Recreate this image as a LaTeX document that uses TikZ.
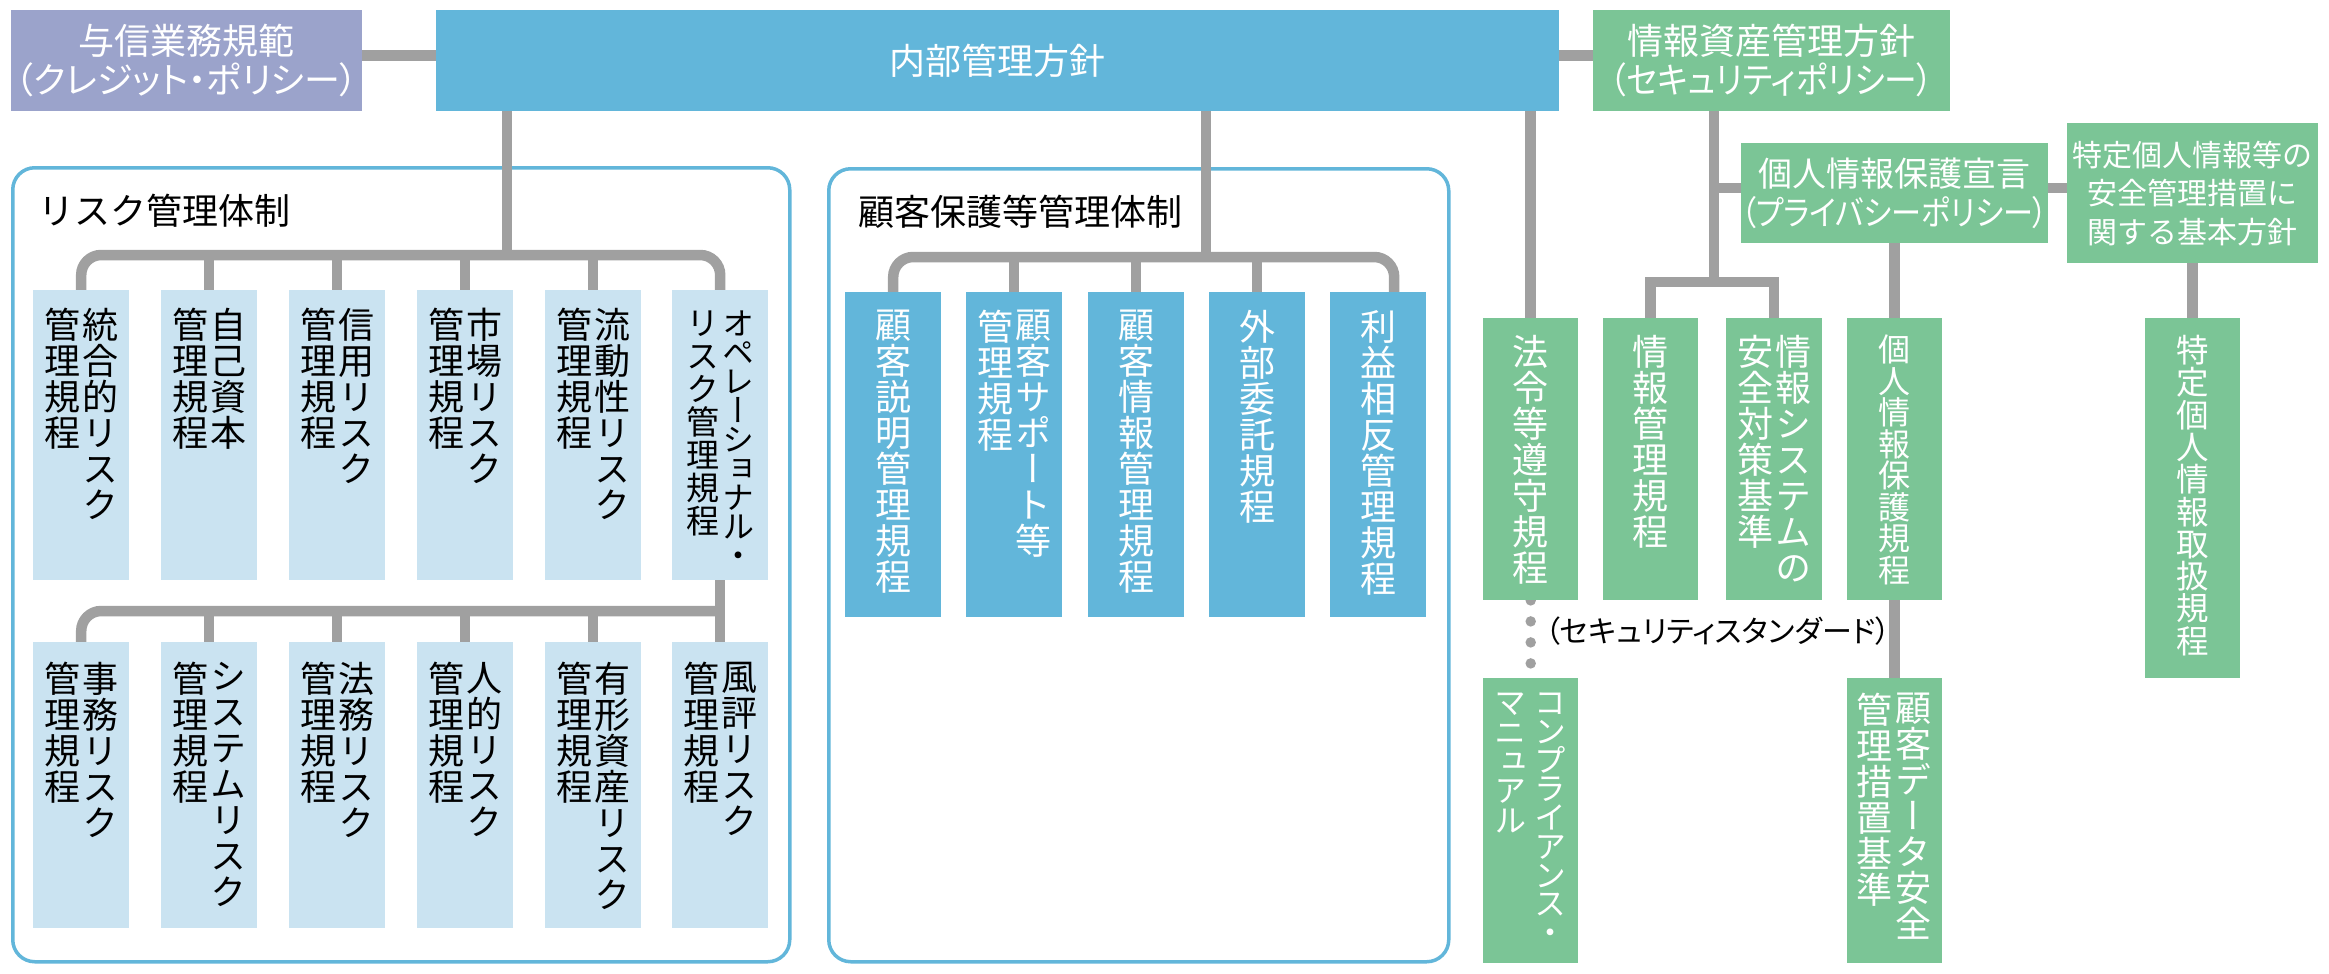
\documentclass[tikz,border=0pt]{standalone}
\usepackage{fontspec}
\usepackage{graphicx}
\newfontfamily\jp{Noto Sans CJK JP}
\newfontfamily\jpp[RawFeature=+palt]{Noto Sans CJK JP}
\newfontfamily\jpv[RawFeature=+vert]{Noto Sans CJK JP}
\definecolor{lav}{HTML}{9BA3CB}
\definecolor{blu}{HTML}{62B6DA}
\definecolor{lblu}{HTML}{CAE3F1}
\definecolor{grn}{HTML}{7BC596}
\definecolor{gry}{HTML}{A0A0A0}
\pgfdeclarelayer{cont}
\pgfdeclarelayer{conn}
\pgfsetlayers{cont,conn,main}
\makeatletter
\def\vt#1{\edef\vt@tmp{#1}\expandafter\vt@a\vt@tmp\@nil}
\def\vt@a#1#2\@nil{#1\ifx\relax#2\relax\expandafter\@gobble\else\expandafter\@firstofone\fi{\\\vt@a#2\@nil}}
\makeatother
\AtBeginDocument{\setlength{\lineskiplimit}{-50pt}}
\begin{document}
\begin{tikzpicture}[x=1pt,y=-1pt,
  box/.style={inner sep=0pt, anchor=north west, draw=none},
  conn/.style={draw=gry, line width=10.5pt},
  vtxt/.style={anchor=north, inner sep=0pt, align=center, font=\jpv\fontsize{36}{36}\selectfont},
  htxt/.style={align=center, font=\jp\fontsize{36}{39}\selectfont, text=white},
  contbox/.style={draw=blu, line width=3.5pt, rounded corners=22pt, inner sep=0pt, anchor=north west, fill=white},
  ttl/.style={anchor=west, inner sep=0pt, font=\jp\fontsize{36}{36}\selectfont},
]
\useasboundingbox (0,0) rectangle (2329,974);

% containers
\begin{pgfonlayer}{cont}
\node[contbox, minimum width=777pt, minimum height=794pt] (riskc) at (11,166) {};
\node[contbox, minimum width=620pt, minimum height=793pt] (custc) at (827,167) {};
\end{pgfonlayer}

% top boxes
\node[box, htxt, fill=lav, minimum width=351pt, minimum height=101pt] (yoshin) at (11,10) {与信業務規範\\{\jpp （クレジット・ポリシー）}};
\node[box, htxt, fill=blu, minimum width=1123pt, minimum height=101pt] (naibu) at (436,10) {内部管理方針};
\node[box, htxt, fill=grn, minimum width=357pt, minimum height=101pt] (joho) at (1593,10) {情報資産管理方針\\\scalebox{0.91}[1]{\jpp （セキュリティポリシー）}};
\node[box, htxt, fill=grn, minimum width=296pt, minimum height=100pt, font=\jp\fontsize{34}{39}\selectfont] (kojin) at (1741,143) {個人情報保護宣言\\\scalebox{0.885}[1]{\jpp （プライバシーポリシー）}};
\node[box, htxt, fill=grn, minimum width=251pt, minimum height=140pt, font=\jp\fontsize{30}{38.5}\selectfont] (tokutei) at (2067,123) {特定個人情報等の\\安全管理措置に\\関する基本方針};

% titles
\node[ttl] (risktitle) at (38,211) {リスク管理体制};
\node[ttl] (custtitle) at (858,212) {顧客保護等管理体制};

% risk boxes
\foreach \i/\x in {1/33,2/161,3/289,4/417,5/545,6/672}
  \node[box, fill=lblu, minimum width=96pt, minimum height=290pt] (r\i) at (\x,290) {};
\foreach \i/\x in {7/33,8/161,9/289,10/417,11/545,12/672}
  \node[box, fill=lblu, minimum width=96pt, minimum height=286pt] (r\i) at (\x,642) {};
\foreach \i/\a in {1/統合的リスク,2/自己資本,3/信用リスク,4/市場リスク,5/流動性リスク}{
  \node[vtxt] (r\i-R) at ([xshift=19pt,yshift=-18pt]r\i.north) {\vt{\a}};
  \node[vtxt] (r\i-L) at ([xshift=-19pt,yshift=-18pt]r\i.north) {\vt{管理規程}};
}
\node[vtxt, font=\jpv\fontsize{32}{29}\selectfont] (r6-R) at ([xshift=18pt,yshift=-21pt]r6.north) {\vt{オペレーショナル・}};
\node[vtxt, font=\jpv\fontsize{33}{33}\selectfont] (r6-L) at ([xshift=-17pt,yshift=-21pt]r6.north) {\vt{リスク管理規程}};
\foreach \i/\a in {7/事務リスク,8/システムリスク,9/法務リスク,10/人的リスク,11/有形資産リスク,12/風評リスク}{
  \node[vtxt] (r\i-R) at ([xshift=19pt,yshift=-20pt]r\i.north) {\vt{\a}};
  \node[vtxt] (r\i-L) at ([xshift=-19pt,yshift=-20pt]r\i.north) {\vt{管理規程}};
}

% customer boxes
\foreach \i/\x in {1/845,2/966,3/1088,4/1209,5/1330}
  \node[box, fill=blu, minimum width=96pt, minimum height=325pt] (c\i) at (\x,292) {};
\node[vtxt, text=white] (c1-T) at ([yshift=-18pt]c1.north) {\vt{顧客説明管理規程}};
\node[vtxt, text=white] (c2-R) at ([xshift=19pt,yshift=-18pt]c2.north) {\vt{顧客サポート等}};
\node[vtxt, text=white] (c2-L) at ([xshift=-19pt,yshift=-18pt]c2.north) {\vt{管理規程}};
\node[vtxt, text=white] (c3-T) at ([yshift=-18pt]c3.north) {\vt{顧客情報管理規程}};
\node[vtxt, text=white] (c4-T) at ([yshift=-18pt]c4.north) {\vt{外部委託規程}};
\node[vtxt, text=white] (c5-T) at ([yshift=-18pt]c5.north) {\vt{利益相反管理規程}};

% green boxes
\node[box, fill=grn, minimum width=95pt, minimum height=282pt] (g1) at (1483,318) {};
\node[box, fill=grn, minimum width=95pt, minimum height=282pt] (g2) at (1603,318) {};
\node[box, fill=grn, minimum width=96pt, minimum height=282pt] (g3) at (1726,318) {};
\node[box, fill=grn, minimum width=95pt, minimum height=282pt] (g4) at (1847,318) {};
\node[box, fill=grn, minimum width=95pt, minimum height=360pt] (g5) at (2145,318) {};
\node[box, fill=grn, minimum width=95pt, minimum height=285pt] (g6) at (1483,678) {};
\node[box, fill=grn, minimum width=95pt, minimum height=285pt] (g7) at (1847,678) {};
\node[vtxt, text=white] (g1-T) at ([yshift=-17pt]g1.north) {\vt{法令等遵守規程}};
\node[vtxt, text=white] (g2-T) at ([yshift=-17pt]g2.north) {\vt{情報管理規程}};
\node[vtxt, text=white] (g3-R) at ([xshift=19pt,yshift=-17pt]g3.north) {\vt{情報システムの}};
\node[vtxt, text=white] (g3-L) at ([xshift=-19pt,yshift=-17pt]g3.north) {\vt{安全対策基準}};
\node[vtxt, text=white, font=\jpv\fontsize{32}{31.5}\selectfont] (g4-T) at ([yshift=-17pt]g4.north) {\vt{個人情報保護規程}};
\node[vtxt, text=white, font=\jpv\fontsize{32.5}{32.3}\selectfont] (g5-T) at ([yshift=-17pt]g5.north) {\vt{特定個人情報取扱規程}};
\node[vtxt, text=white, font=\jpv\fontsize{32}{28.7}\selectfont] (g6-R) at ([xshift=19.5pt,yshift=-15pt]g6.north) {\vt{コンプライアンス・}};
\node[vtxt, text=white, font=\jpv\fontsize{32}{29.4}\selectfont] (g6-L) at ([xshift=-20pt,yshift=-15pt]g6.north) {\vt{マニュアル}};
\node[vtxt, text=white] (g7-R) at ([xshift=19pt,yshift=-15pt]g7.north) {\vt{顧客データ安全}};
\node[vtxt, text=white] (g7-L) at ([xshift=-20pt,yshift=-15pt]g7.north) {\vt{管理措置基準}};

\node[anchor=west, inner sep=0pt, font=\jpp\fontsize{30}{30}\selectfont] (secstd) at (1545,631) {（セキュリティスタンダード）};

% connectors
\begin{pgfonlayer}{conn}
\draw[conn] ([yshift=5pt]yoshin.east) -- ([yshift=5pt]naibu.west);
\draw[conn] ([yshift=5pt]naibu.east) -- ([yshift=5pt]joho.west);
% risk row 1
\coordinate (rbr) at (507,255);
\draw[conn] (naibu.south -| rbr) -- (rbr);
\draw[conn, rounded corners=20pt] (r1.north) -- (r1.north |- rbr) -- (r6.north |- rbr) -- (r6.north);
\foreach \i in {2,...,5} \draw[conn] (r\i.north) -- (r\i.north |- rbr);
% risk row 2
\coordinate (rbr2) at (720,611);
\draw[conn] (r6.south) -- (r12.north);
\draw[conn, rounded corners=20pt] (r7.north) -- (r7.north |- rbr2) -- (r12.north |- rbr2);
\foreach \i in {8,...,11} \draw[conn] (r\i.north) -- (r\i.north |- rbr2);
% customer
\coordinate (cbr) at (1206,257);
\coordinate (c5d) at ([xshift=16pt]c5.north);
\draw[conn] (naibu.south -| cbr) -- (cbr);
\draw[conn, rounded corners=20pt] (c1.north) -- (c1.north |- cbr) -- (c5d |- cbr) -- (c5d);
\foreach \i in {2,3,4} \draw[conn] (c\i.north) -- (c\i.north |- cbr);
% legal
\draw[conn] (naibu.south -| g1.north) -- (g1.north);
% info assets
\coordinate (jbr) at (1714,282);
\draw[conn] (joho.south -| jbr) -- (jbr);
\draw[conn] (g2.north) -- (g2.north |- jbr) -- (g3.north |- jbr) -- (g3.north);
\coordinate (kl) at ([yshift=5pt]kojin.west);
\draw[conn] (kl -| jbr) -- (kl);
\draw[conn] ([yshift=5pt]kojin.east) -- ([yshift=5pt]tokutei.west);
\draw[conn] (kojin.south -| g4.north) -- (g4.north);
\draw[conn] (tokutei.south) -- (g5.north);
\draw[conn] (g4.south) -- (g7.north);
\draw[gry, line width=10.5pt, line cap=round, dash pattern=on 0pt off 21pt] (g1.south) -- (g6.north);
\end{pgfonlayer}
\end{tikzpicture}
\end{document}
